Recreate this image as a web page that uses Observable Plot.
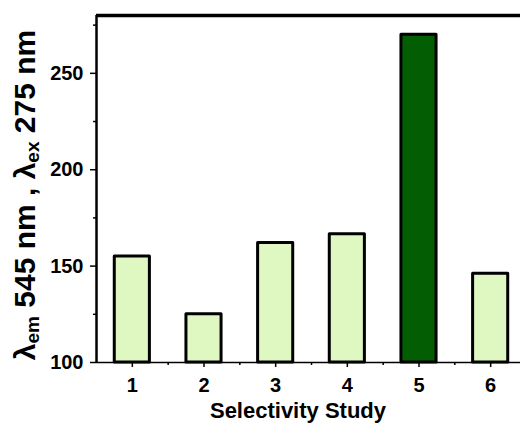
<!DOCTYPE html>
<html><head><meta charset="utf-8">
<script src="https://cdn.jsdelivr.net/npm/d3@7"></script>
<script src="https://cdn.jsdelivr.net/npm/@observablehq/plot@0.6"></script>
<style>
body{margin:0;background:#fff;}
#chart{position:relative;width:520px;height:423px;overflow:hidden;}
#chart svg{overflow:hidden;}
</style>
</head><body><div id="chart"></div>
<script>
// ---- data ----
const samples = [1, 2, 3, 4, 5, 6];
const intensity = [155, 125, 162, 166.5, 270, 146];
const highlighted = 5;
const yMajorTicks = [100, 150, 200, 250];
const yMinorTicks = [125, 175, 225, 275];
const xMajorTicks = [1, 2, 3, 4, 5, 6];
const xMinorTicks = [1.5, 2.5, 3.5, 4.5, 5.5, 6.5];
const xTitle = "Selectivity Study";

const data = samples.map((s, i) => ({s, v: intensity[i]}));
const LIGHT = "#dff7c0", DARK = "#035e03";
const FONT = "'Liberation Sans', Arial, sans-serif";
const yMin = 100, yMax = 280;

const svg = Plot.plot({
  width: 520, height: 423,
  marginLeft: 96, marginRight: 0, marginTop: 15, marginBottom: 61,
  x: {domain: [0.5, 6.5], range: [96, 526]},
  y: {domain: [yMin, yMax], range: [362, 15]},
  style: {fontFamily: FONT, background: "white", color: "black"},
  marks: [
    Plot.rect(data, {x1: d => d.s - 0.245, x2: d => d.s + 0.245, y1: yMin, y2: "v",
      fill: d => d.s === highlighted ? DARK : LIGHT, stroke: "black", strokeWidth: 3, strokeLinejoin: "round"}),
    Plot.axisY({ticks: yMajorTicks, tickSize: 6, tickPadding: 7, tickFormat: d3.format("d"), fontSize: 20, fontWeight: "bold", label: null, strokeWidth: 1.5}),
    Plot.axisY({ticks: yMinorTicks, tickSize: 3, tickFormat: () => "", label: null, strokeWidth: 1.5}),
    Plot.axisX({ticks: xMajorTicks, tickSize: 5, tickPadding: 10, tickFormat: d3.format("d"), fontSize: 20, fontWeight: "bold", label: null, strokeWidth: 1.5}),
    Plot.axisX({ticks: xMinorTicks, tickSize: 3, tickFormat: () => "", label: null, strokeWidth: 1.5}),
    Plot.ruleY([yMin], {strokeWidth: 1.5}),
    Plot.ruleY([yMax], {strokeWidth: 3.5}),
    Plot.ruleX([0.5], {strokeWidth: 2.5})
  ]
});

const s = d3.select(svg);
s.append("text")
  .attr("x", 298).attr("y", 418)
  .attr("text-anchor", "middle")
  .attr("font-family", FONT).attr("font-size", 22).attr("font-weight", "bold")
  .attr("fill", "black")
  .text(xTitle);

const yt = s.append("text")
  .attr("transform", "translate(35,195) rotate(-90)")
  .attr("text-anchor", "middle")
  .attr("font-family", FONT).attr("font-size", 30).attr("font-weight", "bold")
  .attr("fill", "black");
yt.append("tspan").text("λ");
yt.append("tspan").attr("font-size", 19).attr("dy", 4).text("em");
yt.append("tspan").attr("dy", -4).text(" 545 nm , λ");
yt.append("tspan").attr("font-size", 19).attr("dy", 4).text("ex");
yt.append("tspan").attr("dy", -4).text(" 275 nm");

document.getElementById("chart").appendChild(svg);
</script>
</body></html>
